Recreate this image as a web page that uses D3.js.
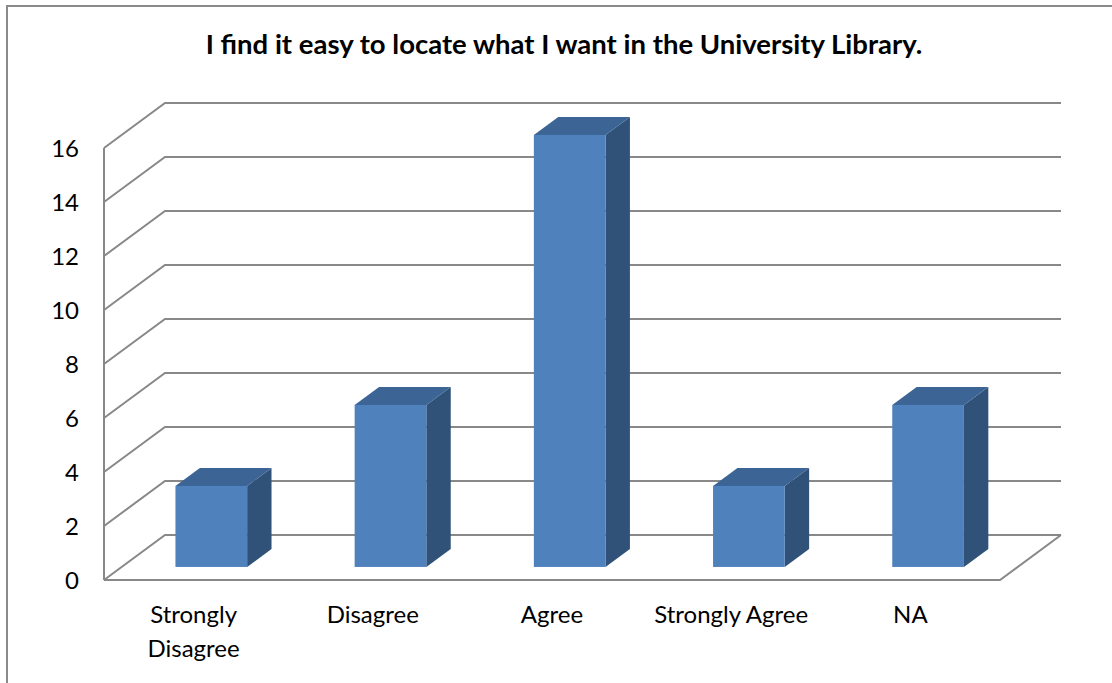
<!DOCTYPE html>
<html>
<head>
<meta charset="utf-8">
<script src="https://cdn.jsdelivr.net/npm/d3@7/dist/d3.min.js"></script>
<style>
  html, body { margin: 0; padding: 0; background: #ffffff; }
  svg { display: block; font-family: Lato, "Liberation Sans", sans-serif; }
</style>
</head>
<body>
<svg id="chart" width="1112" height="683"></svg>
<script>
// Survey responses
const title = "I find it easy to locate what I want in the University Library.";
const categories = ["Strongly Disagree", "Disagree", "Agree", "Strongly Agree", "NA"];
const categoryLines = [["Strongly", "Disagree"], ["Disagree"], ["Agree"], ["Strongly Agree"], ["NA"]];
const values = [3, 6, 16, 3, 6];
const yTicks = [0, 2, 4, 6, 8, 10, 12, 14, 16];

const svg = d3.select("#chart");
const W = 1112, H = 683;

// Oblique projection for the 3D floor / back wall
const depthX = 61, depthY = -45;          // full depth of the plot box
const barD0 = 0.29, barD1 = 0.69;         // bar front / back depth fraction

const x = d3.scaleBand().domain(categories).range([104, 1000]).paddingInner(0).paddingOuter(0);
const y = d3.scaleLinear().domain([0, 16]).range([580, 148]);

const proj = (px, v, d) => [px + depthX * d, y(v) + depthY * d];

const gridColor = "#888888";

// Outer chart frame
svg.append("rect")
  .attr("x", 7).attr("y", 6).attr("width", W + 20).attr("height", H + 20)
  .attr("fill", "#ffffff").attr("stroke", "#8a8a8a").attr("stroke-width", 2);

// Title
svg.append("text")
  .attr("x", 564).attr("y", 54)
  .attr("text-anchor", "middle")
  .attr("font-weight", "bold")
  .attr("font-size", 27.5)
  .attr("fill", "#000")
  .text(title);

const x0 = x.range()[0], x1 = x.range()[1];

// Gridlines: side-wall diagonal + back-wall horizontal
const grid = svg.append("g").attr("fill", "none").attr("stroke", gridColor).attr("stroke-width", 2);
yTicks.forEach(t => {
  const a = proj(x0, t, 0), b = proj(x0, t, 1), c = proj(x1, t, 1);
  grid.append("path").attr("d", d3.line()([a, b, c]));
});

// Left wall edge (front vertical)
grid.append("path").attr("d", d3.line()([proj(x0, 0, 0), proj(x0, 16, 0)]));
// Floor front edge and right side
grid.append("path").attr("d", d3.line()([proj(x0, 0, 0), proj(x1, 0, 0), proj(x1, 0, 1)]));

// Y tick labels
svg.append("g").selectAll("text").data(yTicks).join("text")
  .attr("x", 79).attr("y", d => y(d))
  .attr("dy", "0.36em")
  .attr("text-anchor", "end")
  .attr("font-size", 24)
  .attr("fill", "#000")
  .text(d => d);

// 3D bars
const barW = x.bandwidth() * 0.4;
const bars = svg.append("g");
categories.forEach((cat, i) => {
  const v = values[i];
  const left = x(cat) + (x.bandwidth() - barW) / 2;
  const right = left + barW;
  const g = bars.append("g");
  const fBL = proj(left, 0, barD0), fTR = proj(right, v, barD0);
  // side face
  g.append("path")
    .attr("d", d3.line()([proj(right, 0, barD0), proj(right, 0, barD1), proj(right, v, barD1), proj(right, v, barD0)]) + "Z")
    .attr("fill", "#305279");
  // top face
  g.append("path")
    .attr("d", d3.line()([proj(left, v, barD0), proj(left, v, barD1), proj(right, v, barD1), proj(right, v, barD0)]) + "Z")
    .attr("fill", "#3c6596");
  // front face
  g.append("rect")
    .attr("x", fBL[0]).attr("y", fTR[1])
    .attr("width", barW).attr("height", fBL[1] - fTR[1])
    .attr("fill", "#4f81bd");
});

// Category labels
const labels = svg.append("g");
categories.forEach((cat, i) => {
  const cx = x(cat) + x.bandwidth() / 2;
  const t = labels.append("text")
    .attr("x", cx).attr("y", 623)
    .attr("text-anchor", "middle")
    .attr("font-size", 24)
    .attr("fill", "#000");
  categoryLines[i].forEach((ln, j) => {
    t.append("tspan").attr("x", cx).attr("dy", j === 0 ? 0 : 34).text(ln);
  });
});
</script>
</body>
</html>
